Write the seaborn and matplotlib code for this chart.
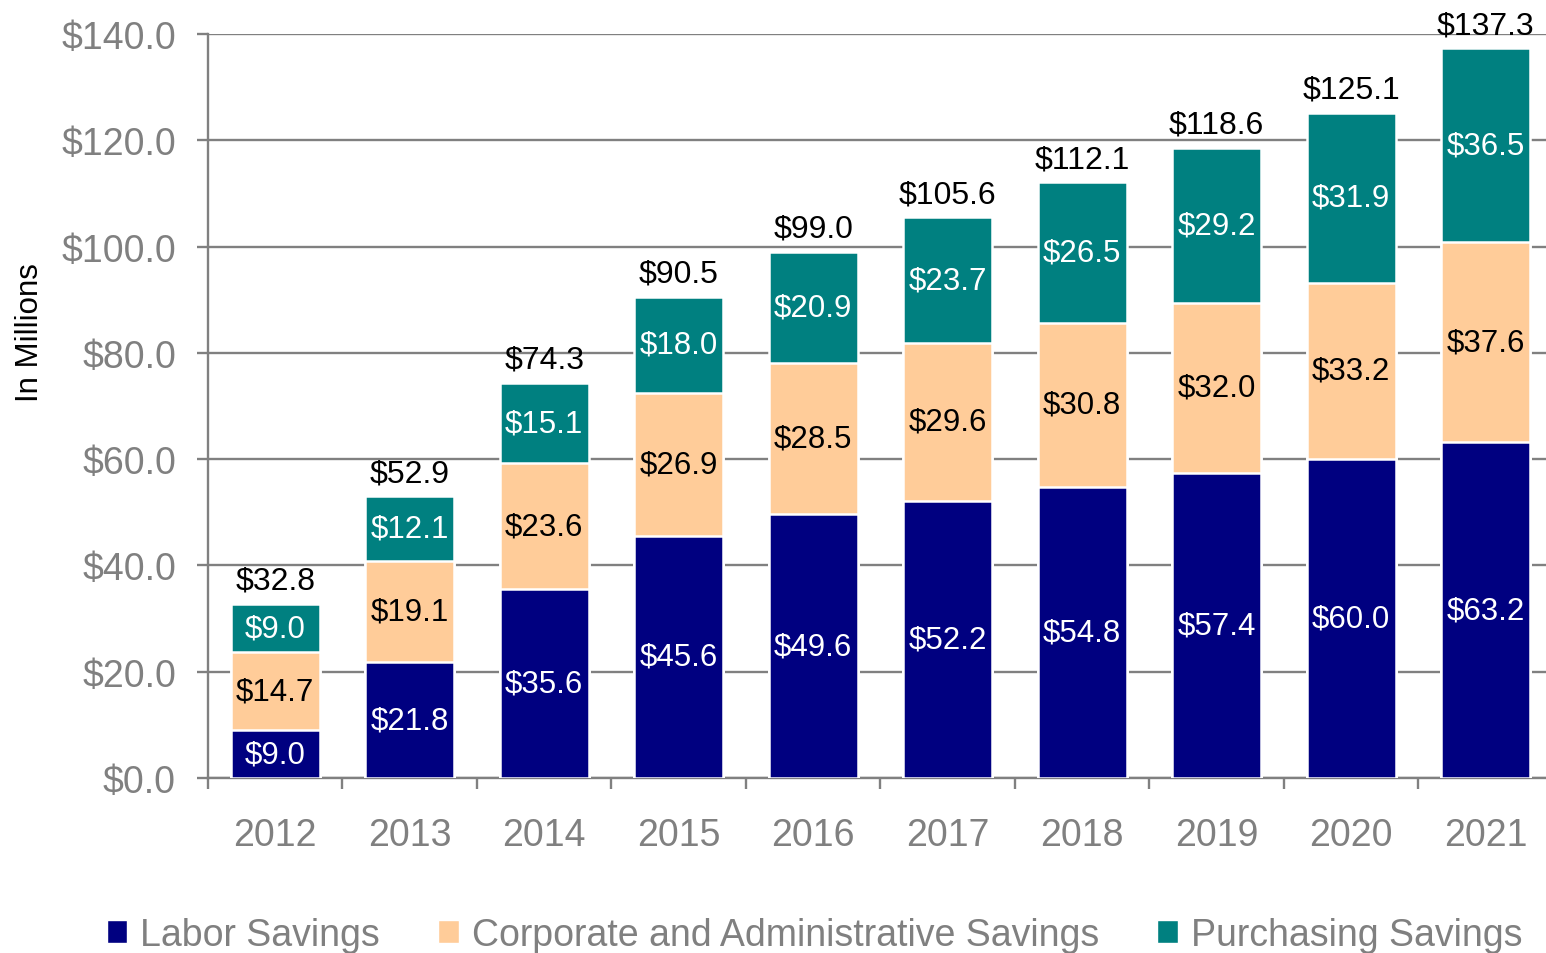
import matplotlib
matplotlib.use("Agg")
import matplotlib.pyplot as plt
import matplotlib.ticker as mticker
import numpy as np
import pandas as pd
import seaborn as sns

YEARS = ["2012", "2013", "2014", "2015", "2016", "2017", "2018", "2019", "2020", "2021"]
LABOR = [9.0, 21.8, 35.6, 45.6, 49.6, 52.2, 54.8, 57.4, 60.0, 63.2]
CORPORATE = [14.7, 19.1, 23.6, 26.9, 28.5, 29.6, 30.8, 32.0, 33.2, 37.6]
PURCHASING = [9.0, 12.1, 15.1, 18.0, 20.9, 23.7, 26.5, 29.2, 31.9, 36.5]
TOTALS = [32.8, 52.9, 74.3, 90.5, 99.0, 105.6, 112.1, 118.6, 125.1, 137.3]
SERIES = ["Labor Savings", "Corporate and Administrative Savings", "Purchasing Savings"]

NAVY, PEACH, TEAL, GRAY = "#000080", "#FFCC99", "#008080", "#808080"

sns.set_theme(style="white")
plt.rcParams["font.family"] = ["Liberation Sans", "DejaVu Sans"]

df = pd.DataFrame({"year": YEARS, "labor": LABOR, "corp": CORPORATE, "purch": PURCHASING})
df["top2"] = df["labor"] + df["corp"]
df["top3"] = df["top2"] + df["purch"]

fig = plt.figure(figsize=(15.46, 9.54), dpi=100)
ax = fig.add_axes([0.1345, 0.1834, 0.8700, 0.7799])

# stacked bars: draw cumulative heights from tallest to shortest
for col, color in [("top3", TEAL), ("top2", PEACH), ("labor", NAVY)]:
    sns.barplot(data=df, x="year", y=col, color=color, width=0.66,
                edgecolor="white", linewidth=1.8, saturation=1, ax=ax, zorder=3)

# segment labels + totals
x = np.arange(len(YEARS))
for i in x:
    segs = [(0, LABOR[i], "white"),
            (LABOR[i], CORPORATE[i], "black"),
            (LABOR[i] + CORPORATE[i], PURCHASING[i], "white")]
    for base, h, tc in segs:
        ax.text(i, base + h / 2, f"${h:.1f}", ha="center", va="center",
                color=tc, fontsize=22.5, zorder=5)
    ax.annotate(f"${TOTALS[i]:.1f}", (i, df["top3"][i]), xytext=(0, 11),
                textcoords="offset points", ha="center", va="baseline",
                fontsize=23, color="black", zorder=5, annotation_clip=False)

ax.set_xlim(-0.5, len(YEARS) - 0.5)
ax.set_ylim(0, 140)
ax.yaxis.set_major_locator(mticker.MultipleLocator(20))
ax.yaxis.set_major_formatter(mticker.FuncFormatter(lambda v, _: f"${v:.1f}"))
ax.set_xticks(x)
ax.set_xticks(np.arange(-0.5, len(YEARS)), minor=True)

ax.grid(axis="y", color=GRAY, linewidth=1.7, zorder=0)
ax.set_axisbelow(True)
for s in ["top", "right"]:
    ax.spines[s].set_visible(False)
for s in ["left", "bottom"]:
    ax.spines[s].set_color(GRAY)
    ax.spines[s].set_linewidth(1.7)

ax.tick_params(axis="y", which="major", length=8, width=1.7, color=GRAY,
               labelcolor=GRAY, labelsize=27, pad=15, left=True)
ax.tick_params(axis="x", which="major", length=0, labelcolor=GRAY,
               labelsize=27, pad=28)
ax.tick_params(axis="x", which="minor", length=8, width=1.7, color=GRAY, bottom=True)

ax.set_xlabel("")
ax.set_ylabel("In Millions", fontsize=22.5, color="black")
ax.yaxis.set_label_coords(-0.121, 0.60)

handles = [plt.Rectangle((0, 0), 1, 1, facecolor=c) for c in (NAVY, PEACH, TEAL)]
leg = fig.legend(handles, SERIES, loc="center", bbox_to_anchor=(0.527, 0.019),
                 ncol=3, frameon=False, fontsize=27, handlelength=0.55,
                 handleheight=0.55, handletextpad=0.35, columnspacing=1.55)
for t in leg.get_texts():
    t.set_color(GRAY)

fig.savefig("out.png", dpi=100)
